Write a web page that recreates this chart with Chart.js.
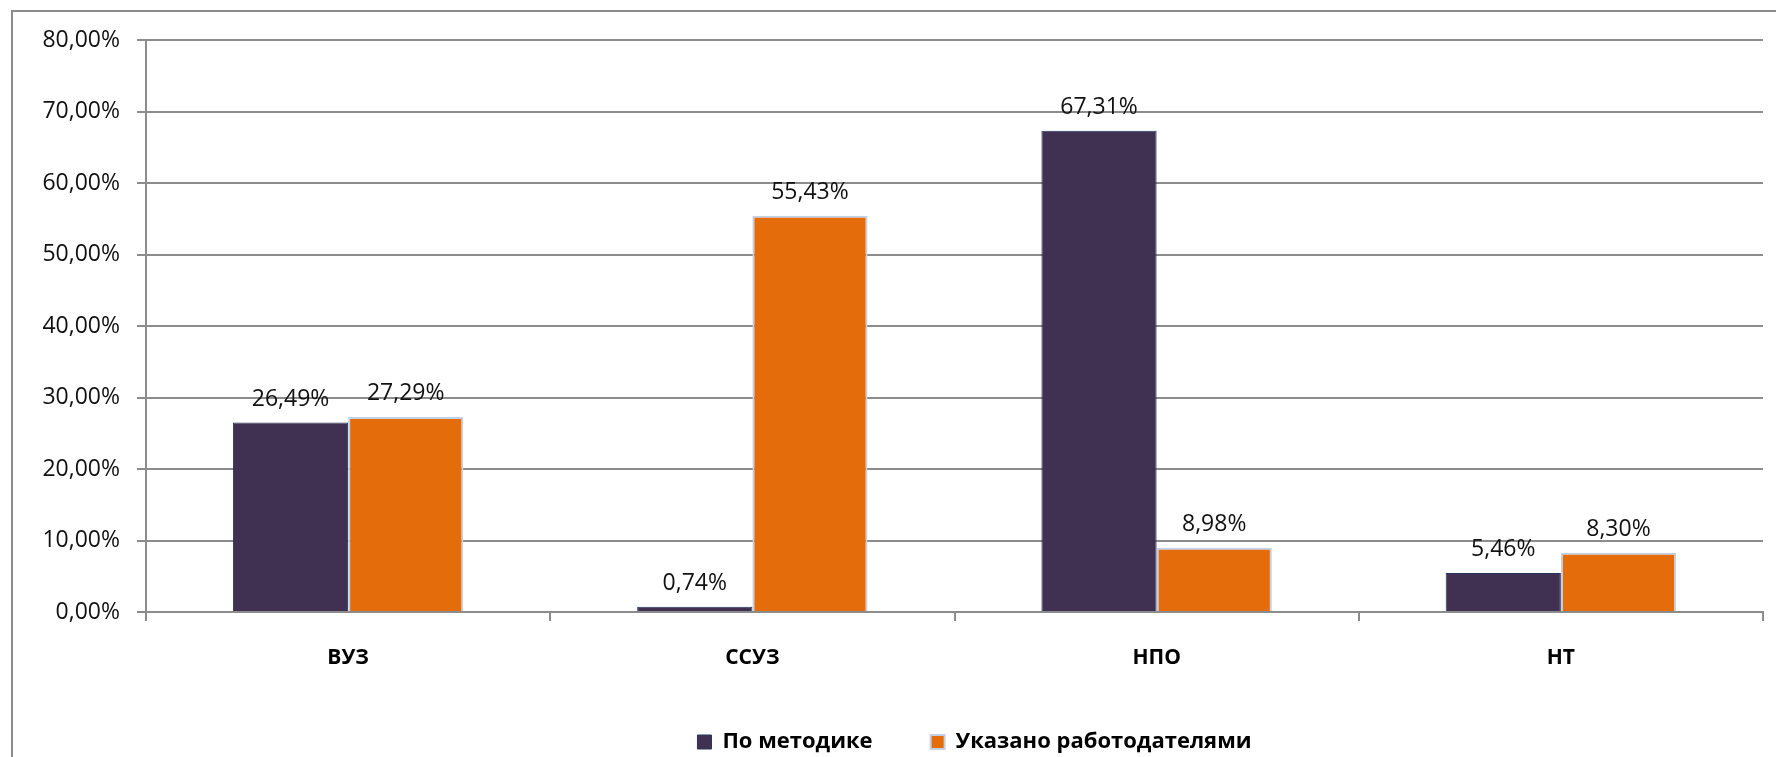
<!DOCTYPE html>
<html>
<head>
<meta charset="utf-8">
<script src="https://cdn.jsdelivr.net/npm/chart.js@4.4.1/dist/chart.umd.min.js"></script>
<style>
  html, body { margin: 0; padding: 0; background: #fff; overflow: hidden; }
  #frame { position: absolute; left: 11px; top: 10px; width: 1770px; height: 800px; border: 2px solid #8c8c8c; }
  #chart { position: absolute; left: 0; top: 0; }
</style>
</head>
<body>
<div id="frame"></div>
<canvas id="chart" width="1776" height="757"></canvas>
<script>
const categories = ['ВУЗ', 'ССУЗ', 'НПО', 'НТ'];
const seriesNames = ['По методике', 'Указано работодателями'];
const byMethod = [26.49, 0.74, 67.31, 5.46];
const byEmployers = [27.29, 55.43, 8.98, 8.30];
const yTicks = [0, 10, 20, 30, 40, 50, 60, 70, 80];

const pct = v => v.toFixed(2).replace('.', ',') + '%';

Chart.defaults.font.family = "'Open Sans', sans-serif";
Chart.defaults.color = '#000';

// value labels above each bar
const valueLabels = {
    id: 'valueLabels',
    afterDatasetsDraw(chart) {
        const c = chart.ctx;
        c.save();
        c.font = "23px 'Open Sans', sans-serif";
        c.fillStyle = '#111';
        c.textAlign = 'center';
        c.textBaseline = 'alphabetic';
        chart.data.datasets.forEach((ds, i) => {
            chart.getDatasetMeta(i).data.forEach((bar, j) => {
                c.fillText(pct(ds.data[j]), bar.x, bar.y - 17);
            });
        });
        c.restore();
    }
};

// legend in the original sits right of centre
const legendShift = {
    id: 'legendShift',
    afterLayout(chart) {
        chart.legend.left += 186;
    }
};

new Chart(document.getElementById('chart'), {
    type: 'bar',
    data: {
        labels: categories,
        datasets: [{
            label: seriesNames[0],
            data: byMethod,
            backgroundColor: '#403152',
            borderColor: '#25385a',
            borderWidth: 1,
            categoryPercentage: 0.57,
            barPercentage: 1.0
        }, {
            label: seriesNames[1],
            data: byEmployers,
            backgroundColor: '#e46c0a',
            borderColor: '#c3d1e6',
            borderWidth: 2,
            categoryPercentage: 0.57,
            barPercentage: 1.0
        }]
    },
    options: {
        responsive: false,
        devicePixelRatio: 1,
        animation: false,
        layout: { padding: { left: 0, right: 13, top: 40, bottom: -6 } },
        plugins: {
            tooltip: { enabled: false },
            legend: {
                position: 'bottom',
                labels: {
                    boxWidth: 14,
                    boxHeight: 14,
                    padding: 58,
                    font: { size: 22, weight: 'bold' },
                    color: '#000'
                }
            }
        },
        scales: {
            x: {
                grid: { drawOnChartArea: false, tickLength: 9, color: '#8c8c8c', lineWidth: 2, offset: true },
                border: { color: '#8c8c8c', width: 2 },
                ticks: { font: { size: 21, weight: 'bold' }, color: '#000', padding: 24 },
                afterFit: s => { s.height = 61; }
            },
            y: {
                min: 0,
                max: 80,
                afterBuildTicks: s => { s.ticks = yTicks.map(v => ({ value: v })); },
                grid: { color: '#8c8c8c', lineWidth: 2, tickLength: 9 },
                border: { color: '#8c8c8c', width: 2 },
                ticks: { font: { size: 23 }, color: '#111', padding: 17, callback: v => pct(v) },
                afterFit: s => { s.width = 146; }
            }
        }
    },
    plugins: [valueLabels, legendShift]
});
</script>
</body>
</html>
